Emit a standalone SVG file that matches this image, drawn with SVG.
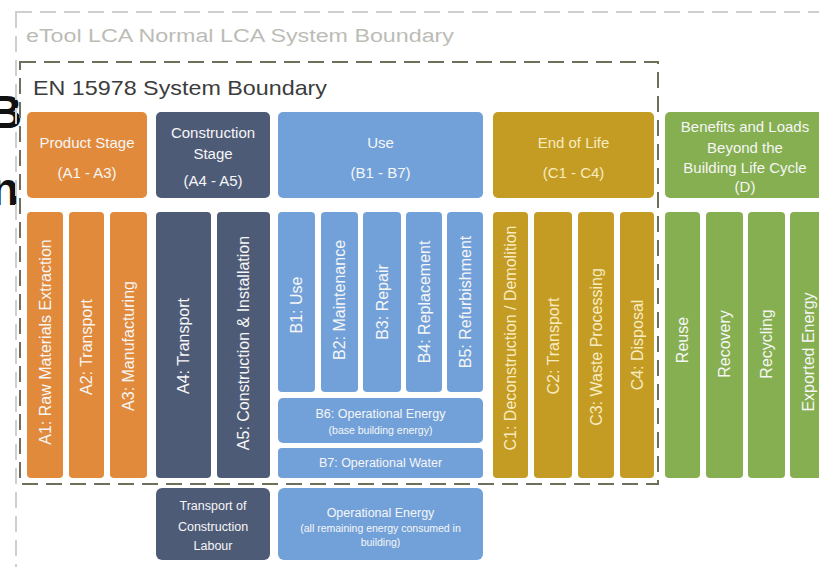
<svg xmlns="http://www.w3.org/2000/svg" width="819" height="567" viewBox="0 0 819 567">
<style>
.t{font-family:"Liberation Sans",Arial,sans-serif;fill:#f6f6f6;text-anchor:middle;dominant-baseline:central}
.h{font-size:15px}
.v{font-size:16px}
.s{font-size:12.5px}
.xs{font-size:10.5px}
.gt{fill:#f7ecc0}
.or{fill:#E28A3B}
.sl{fill:#4E5B77}
.bl{fill:#72A1DA}
.gd{fill:#C49B23}
.gr{fill:#85AF50}
.outer{fill:none;stroke:#cfcfcf;stroke-width:2;stroke-dasharray:16 8}
.inner{fill:none;stroke:#6f6f5a;stroke-width:2;stroke-dasharray:16 8}
</style>
<rect width="819" height="567" fill="#ffffff"/>
<g id="clipped-letters">
<text x="-11" y="128" style="font-family:'Liberation Sans',Arial,sans-serif;font-size:46px;font-weight:bold;fill:#111">B</text>
<text x="-9" y="205" style="font-family:'Liberation Sans',Arial,sans-serif;font-size:46px;font-weight:bold;fill:#111">n</text>
</g>
<g id="boundaries">
<rect class="outer" x="16" y="12" width="830" height="570"/>
<text x="26" y="42" textLength="428" lengthAdjust="spacingAndGlyphs" style="font-family:'Liberation Sans',Arial,sans-serif;font-size:18px;fill:#bcbcb6">eTool LCA Normal LCA System Boundary</text>
<rect class="inner" x="20" y="62" width="638" height="422"/>
<text x="33" y="95" textLength="294" lengthAdjust="spacingAndGlyphs" style="font-family:'Liberation Sans',Arial,sans-serif;font-size:21px;fill:#3c3c3c">EN 15978 System Boundary</text>
</g>
<g id="product-stage">
<rect class="or" x="27" y="112" width="120" height="86" rx="5"/>
<text class="t h" x="87" y="142">Product Stage</text>
<text class="t h" x="87" y="172">(A1 - A3)</text>
</g>
<g id="construction-stage">
<rect class="sl" x="156" y="112" width="114" height="86" rx="5"/>
<text class="t h" x="213" y="132">Construction</text>
<text class="t h" x="213" y="153">Stage</text>
<text class="t h" x="213" y="180">(A4 - A5)</text>
</g>
<g id="use-stage">
<rect class="bl" x="278" y="112" width="205" height="86" rx="5"/>
<text class="t h" x="380.5" y="142">Use</text>
<text class="t h" x="380.5" y="172">(B1 - B7)</text>
</g>
<g id="end-of-life">
<rect class="gd" x="493" y="112" width="161" height="86" rx="5"/>
<text class="t h gt" x="573.5" y="142">End of Life</text>
<text class="t h gt" x="573.5" y="172">(C1 - C4)</text>
</g>
<g id="beyond">
<rect class="gr" x="665" y="112" width="162" height="86" rx="5"/>
<text class="t h" x="745" y="126">Benefits and Loads</text>
<text class="t h" x="745" y="147">Beyond the</text>
<text class="t h" x="745" y="167">Building Life Cycle</text>
<text class="t h" x="745" y="186">(D)</text>
</g>
<g id="a1"><rect class="or" x="27" y="212" width="36" height="266" rx="4"/><text class="t v" transform="translate(45,342) rotate(-90)">A1: Raw Materials Extraction</text></g>
<g id="a2"><rect class="or" x="69" y="212" width="35" height="266" rx="4"/><text class="t v" transform="translate(86.5,347) rotate(-90)">A2: Transport</text></g>
<g id="a3"><rect class="or" x="110" y="212" width="37" height="266" rx="4"/><text class="t v" transform="translate(128.5,346) rotate(-90)">A3: Manufacturing</text></g>
<g id="a4"><rect class="sl" x="156" y="212" width="55" height="266" rx="4"/><text class="t v" transform="translate(183.5,346) rotate(-90)">A4: Transport</text></g>
<g id="a5"><rect class="sl" x="217" y="212" width="53" height="266" rx="4"/><text class="t v" transform="translate(243.5,343) rotate(-90)">A5: Construction &amp; Installation</text></g>
<g id="b1"><rect class="bl" x="278" y="212" width="37" height="180" rx="4"/><text class="t v" transform="translate(296.5,305) rotate(-90)">B1: Use</text></g>
<g id="b2"><rect class="bl" x="321" y="212" width="37" height="180" rx="4"/><text class="t v" transform="translate(339.5,300) rotate(-90)">B2: Maintenance</text></g>
<g id="b3"><rect class="bl" x="363" y="212" width="38" height="180" rx="4"/><text class="t v" transform="translate(382,302) rotate(-90)">B3: Repair</text></g>
<g id="b4"><rect class="bl" x="406" y="212" width="36" height="180" rx="4"/><text class="t v" transform="translate(424,302) rotate(-90)">B4: Replacement</text></g>
<g id="b5"><rect class="bl" x="447" y="212" width="36" height="180" rx="4"/><text class="t v" transform="translate(465,302) rotate(-90)">B5: Refurbishment</text></g>
<g id="b6"><rect class="bl" x="278" y="398" width="205" height="45" rx="5"/><text class="t s" x="380.5" y="414">B6: Operational Energy</text><text class="t xs" x="380.5" y="430">(base building energy)</text></g>
<g id="b7"><rect class="bl" x="278" y="448" width="205" height="30" rx="4"/><text class="t s" x="380.5" y="463">B7: Operational Water</text></g>
<g id="c1"><rect class="gd" x="493" y="212" width="35" height="266" rx="4"/><text class="t v gt" transform="translate(510.5,338) rotate(-90)">C1: Deconstruction / Demolition</text></g>
<g id="c2"><rect class="gd" x="534" y="212" width="38" height="266" rx="4"/><text class="t v gt" transform="translate(553,346) rotate(-90)">C2: Transport</text></g>
<g id="c3"><rect class="gd" x="578" y="212" width="36" height="266" rx="4"/><text class="t v gt" transform="translate(596,347) rotate(-90)">C3: Waste Processing</text></g>
<g id="c4"><rect class="gd" x="620" y="212" width="34" height="266" rx="4"/><text class="t v gt" transform="translate(637,345) rotate(-90)">C4: Disposal</text></g>
<g id="reuse"><rect class="gr" x="665" y="212" width="35" height="266" rx="4"/><text class="t v" transform="translate(682.5,340) rotate(-90)">Reuse</text></g>
<g id="recovery"><rect class="gr" x="706" y="212" width="37" height="266" rx="4"/><text class="t v" transform="translate(724.5,344) rotate(-90)">Recovery</text></g>
<g id="recycling"><rect class="gr" x="748" y="212" width="37" height="266" rx="4"/><text class="t v" transform="translate(766.5,344) rotate(-90)">Recycling</text></g>
<g id="exported-energy"><rect class="gr" x="790" y="212" width="36" height="266" rx="4"/><text class="t v" transform="translate(808,352) rotate(-90)">Exported Energy</text></g>
<g id="transport-labour"><rect class="sl" x="156" y="488" width="114" height="72" rx="6"/><text class="t s" x="213" y="506">Transport of</text><text class="t s" x="213" y="527">Construction</text><text class="t s" x="213" y="546">Labour</text></g>
<g id="operational-energy"><rect class="bl" x="278" y="488" width="205" height="72" rx="6"/><text class="t s" x="380.5" y="513">Operational Energy</text><text class="t xs" x="380.5" y="528">(all remaining energy consumed in</text><text class="t xs" x="380.5" y="542">building)</text></g>
<g id="connectors"></g>
</svg>
